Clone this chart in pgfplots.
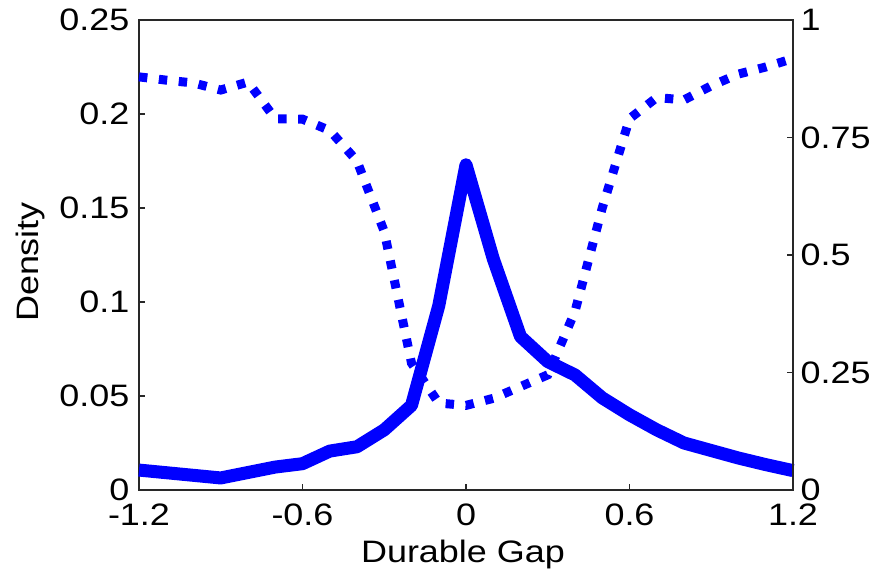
\documentclass[border=0pt]{standalone}
\usepackage{pgfplots}
\pgfplotsset{compat=1.18}
\usepackage{fontspec}
\setmainfont{Liberation Sans}[FakeStretch=1.16]
\definecolor{lineblue}{RGB}{0,0,255}
\definecolor{axgray}{RGB}{40,40,40}
\pgfplotstableread{
x y
-1.2 0.0106
-1.1 0.0092
-1.0 0.0078
-0.9 0.0064
-0.8 0.0093
-0.7 0.0122
-0.6 0.0140
-0.5 0.0207
-0.4 0.0230
-0.3 0.0320
-0.2 0.0450
-0.1 0.0980
0.0 0.1730
0.1 0.1230
0.2 0.0816
0.3 0.0683
0.4 0.0612
0.5 0.0490
0.6 0.0400
0.7 0.0320
0.8 0.0250
0.9 0.0210
1.0 0.0170
1.1 0.0135
1.2 0.0103
}\densitydata
\pgfplotstableread{
x y
-1.2 0.879
-1.1 0.872
-1.0 0.866
-0.9 0.851
-0.8 0.868
-0.7 0.790
-0.6 0.789
-0.5 0.765
-0.4 0.700
-0.3 0.550
-0.2 0.270
-0.1 0.185
0.0 0.180
0.1 0.195
0.2 0.220
0.3 0.245
0.4 0.380
0.5 0.600
0.6 0.790
0.7 0.835
0.8 0.830
0.9 0.860
1.0 0.885
1.1 0.900
1.2 0.918
}\sharedata
\begin{document}
\fontsize{15.5bp}{18bp}\selectfont
\begin{tikzpicture}
\path[use as bounding box] (-69.5bp,-39.5bp) rectangle (366bp,245bp);
\begin{axis}[
  name=ax,
  at={(0,0)}, anchor=south west,
  width=327bp, height=235bp, scale only axis,
  xmin=-1.2, xmax=1.2, ymin=0, ymax=0.25,
  xtick={-1.2,-0.6,0,0.6,1.2},
  xticklabels={-1.2,-0.6,0,0.6,1.2},
  ytick={0,0.05,0.1,0.15,0.2,0.25},
  yticklabels={0,0.05,0.1,0.15,0.2,0.25},
  tick align=inside, xtick pos=lower, ytick pos=left,
  major tick length=3bp,
  axis line style={draw=axgray, line width=0.8bp},
  tick style={draw=axgray, line width=0.6bp},
  xticklabel style={yshift=-1.5bp},
  yticklabel style={xshift=0.5bp},
  clip=false,
]
\addplot[lineblue, line width=6.5bp, line join=round, line cap=butt] table[x=x,y=y] {\densitydata};
\end{axis}
\begin{axis}[
  at={(0,0)}, anchor=south west,
  width=327bp, height=235bp, scale only axis,
  xmin=-1.2, xmax=1.2, ymin=0, ymax=1,
  axis x line=none, axis y line*=right,
  ytick={0,0.25,0.5,0.75,1},
  yticklabels={0,0.25,0.5,0.75,1},
  tick align=inside, ytick pos=right,
  major tick length=3bp,
  axis line style={draw=axgray, line width=0.8bp},
  tick style={draw=axgray, line width=0.6bp},
  yticklabel style={xshift=-1.5bp},
  clip=false,
]
\addplot[lineblue, line width=4.5bp, line cap=butt, dash pattern=on 4.2bp off 5.8bp] table[x=x,y=y] {\sharedata};
\end{axis}
\node[rotate=90, anchor=center] at ([xshift=-54.5bp,yshift=-3.5bp]ax.west) {Density};
\node[anchor=base] at ([xshift=-1.5bp,yshift=-36bp]ax.south) {Durable Gap};
\end{tikzpicture}
\end{document}
